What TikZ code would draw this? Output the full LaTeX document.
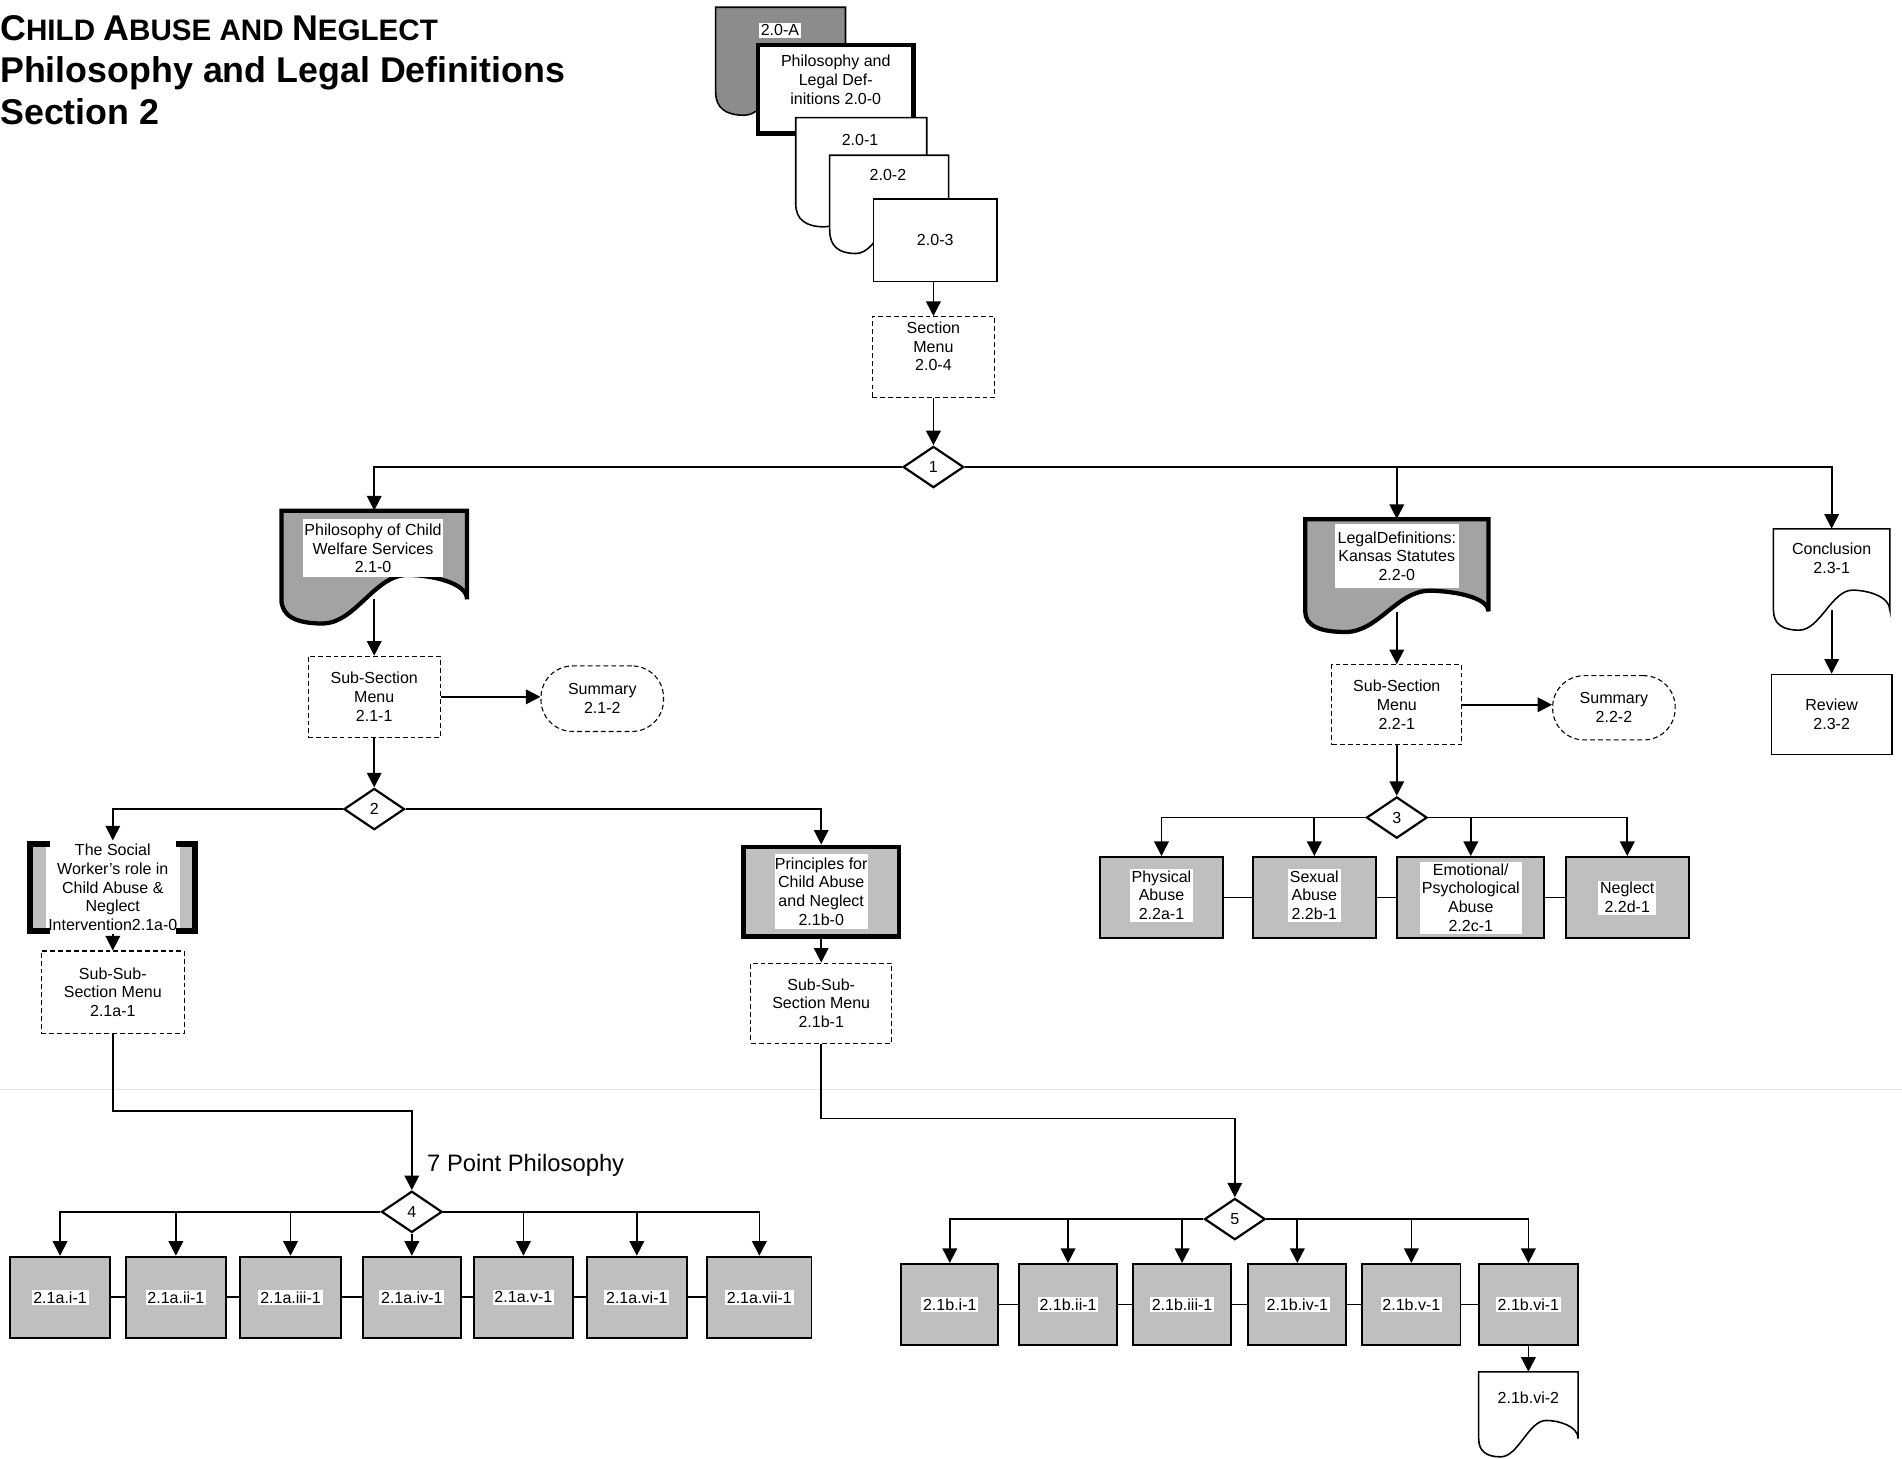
\documentclass[tikz,border=0pt]{standalone}
\usepackage{fontspec}
\setmainfont{Liberation Sans}
\usetikzlibrary{arrows.meta,shapes.geometric}
\definecolor{shadeA}{gray}{0.55}
\definecolor{shadeB}{gray}{0.64}
\definecolor{shadeC}{gray}{0.75}
\newcommand\nodefont{\fontsize{13.2}{15.5}\selectfont}
\newcommand\ttlcap[1]{{\fontsize{29.5}{30}\selectfont #1}}
% document shape: [style]{x0}{y0}{x1}{ySide}{waveDepth}
\newcommand\docshape[6][]{%
  \draw[#1] (#2,#3) -- (#4,#3) -- (#4,#5)
   .. controls (#4,{#5-0.7*#6}) and ({#2+0.8*(#4-#2)},{#5-#6}) .. ({#2+0.68*(#4-#2)},{#5-#6})
   .. controls ({#2+0.5*(#4-#2)},{#5-#6}) and ({#2+0.4*(#4-#2)},{#5+#6}) .. ({#2+0.22*(#4-#2)},{#5+#6})
   .. controls ({#2+0.08*(#4-#2)},{#5+#6}) and (#2,{#5+0.7*#6}) .. (#2,#5) -- cycle;}
\tikzset{
  every node/.style={font=\nodefont, align=center, inner sep=1pt},
  wh/.style 2 args={minimum width=#1pt, minimum height=#2pt},
  conn/.style={line width=1.4pt},
  arr/.style={conn, -{Triangle[length=12pt,width=12pt]}},
  thinbox/.style={draw, line width=1.3pt, fill=white},
  dbox/.style={draw, line width=0.9pt, dash pattern=on 4pt off 2.5pt, fill=white},
  gbox/.style={draw, line width=1.6pt, fill=shadeC},
  thickbox/.style={draw, line width=3.5pt},
  txt/.style={fill=white, inner sep=1.5pt},
  dia/.style={diamond, draw, line width=1.8pt, fill=white, minimum width=50pt, minimum height=34pt, inner sep=0pt},
  ttl/.style={anchor=base west, inner sep=0pt, align=left}
}
\begin{document}
\begin{tikzpicture}[x=1pt,y=-1pt]
\useasboundingbox (0,0) rectangle (1568,1202);
% faint seam of the scanned page
\draw[black!10, line width=1.2pt] (0,898) -- (1568,898);

% Title
\node[ttl, font=\bfseries\fontsize{24.4}{28}\selectfont] (t1) at (0,33) {\ttlcap{C}HILD \ttlcap{A}BUSE AND \ttlcap{N}EGLECT};
\node[ttl, font=\bfseries\fontsize{29.5}{32}\selectfont] (t2) at (0,68) {Philosophy and Legal Definitions};
\node[ttl, font=\bfseries\fontsize{29.5}{32}\selectfont] (t3) at (0,103) {Section 2};

% Top stack
\docshape[fill=shadeA, line width=1.3pt]{590}{6}{697}{76}{19}
\node[txt] (tA) at (643,25) {2.0-A};
\node[thickbox, fill=white, wh={128}{73}] (n200) at (689,73.5) {};
\node (n200t) at (689,66) {Philosophy and\\Legal Def-\\initions 2.0-0};
\docshape[fill=white, line width=1.3pt]{656}{97}{764}{168}{19}
\node (t201) at (709,115) {2.0-1};
\docshape[fill=white, line width=1.3pt]{684}{128}{782}{190}{19}
\node (t202) at (732,144) {2.0-2};
\node[thinbox, wh={102}{68}] (n203) at (771,198) {2.0-3};
\node[dbox, wh={101}{67}] (sm) at (769.5,294.5) {};
\node (smt) at (769.5,285.5) {Section\\Menu\\2.0-4};
\draw[arr] (sm.north |- n203.south) -- (sm.north);
\node[dia] (d1) at (769.5,385) {1};
\draw[arr] (sm.south) -- (d1.north);

% Branch 2.1
\docshape[fill=shadeB, line width=3.5pt]{232}{421}{385}{494}{20}
\node[wh={153}{73}] (p21) at (308.5,457.5) {};
\node[txt, wh={111}{48}] (p21t) at (307.5,452) {Philosophy of Child\\Welfare Services\\2.1-0};
\draw[arr] (d1.west) -| (p21.north);
\node[dbox, wh={109}{67}] (ss21) at (308.5,574.5) {Sub-Section\\Menu\\2.1-1};
\draw[arr] (p21.south) -- (ss21.north);
\node[dbox, rounded corners=26pt, wh={101}{54}] (sum21) at (496.5,576) {Summary\\2.1-2};
\draw[arr] (ss21.east) -- (ss21.east -| sum21.west);
\node[dia] (d2) at (308.5,667) {2};
\draw[arr] (ss21.south) -- (d2.north);

% 2.1a-0 bracket box
\fill[shadeC] (25,693) rectangle (161,770);
\node[txt, wh={110}{77}, inner sep=0pt] (a0) at (93,731.5) {The Social\\Worker's role in\\Child Abuse \&\\Neglect\\Intervention2.1a-0};
\draw[line width=5pt] (41,695.5) -- (25,695.5) -- (25,767.5) -- (41,767.5);
\draw[line width=5pt] (145,695.5) -- (161,695.5) -- (161,767.5) -- (145,767.5);
\draw[arr] (d2.west) -| (a0.north);
\node[dbox, wh={118}{68}] (ssa) at (93,818) {Sub-Sub-\\Section Menu\\2.1a-1};
\draw[arr] (a0.south) -- (ssa.north);

% 2.1b-0
\node[thickbox, fill=shadeC, wh={128}{74}] (b0) at (677,735) {};
\node[txt, wh={77}{62}, inner sep=0pt] (b0t) at (677,735) {Principles for\\Child Abuse\\and Neglect\\2.1b-0};
\draw[arr] (d2.east) -| (b0.north);
\node[dbox, wh={116}{66}] (ssb) at (677,827) {Sub-Sub-\\Section Menu\\2.1b-1};
\draw[arr] (b0.south) -- (ssb.north);

% 7 point philosophy
\node[dia] (d4) at (339.5,999) {4};
\coordinate (k4) at (339.5,916);
\draw[arr] (ssa.south) |- (k4) -- (d4.north);
\node[anchor=west, font=\fontsize{19.6}{22}\selectfont] (pp) at (351,961) {7 Point Philosophy};
\foreach \i/\x/\w/\r in {1/49.5/83/i, 2/145/82/ii, 3/239.5/83/iii, 4/339.5/81/iv, 5/431.5/81/v, 6/525/82/vi, 7/626/86/vii} {
  \node[gbox, wh={\w}{67}] (ra\i) at (\x,1069.5) {};
  \node[txt] (rat\i) at (\x,1069.5) {2.1a.\r-1};
}
\foreach \i/\j in {1/2,2/3,3/4,4/5,5/6,6/7} \draw[conn] (ra\i.east) -- (ra\j.west);
\foreach \i in {1,2,3} \draw[arr] (d4.west) -| (ra\i.north);
\draw[arr] (d4.south) -- (ra4.north);
\foreach \i in {5,6,7} \draw[arr] (d4.east) -| (ra\i.north);

% 2.1b row
\node[dia] (d5) at (1018,1005) {5};
\coordinate (k5) at (1018,922);
\draw[arr] (ssb.south) |- (k5) -- (d5.north);
\foreach \i/\x/\w/\r in {1/783/80/i, 2/880.5/81/ii, 3/974.5/81/iii, 4/1069.5/81/iv, 5/1163.5/81/v, 6/1260/82/vi} {
  \node[gbox, wh={\w}{67}] (rb\i) at (\x,1075.5) {};
  \node[txt] (rbt\i) at (\x,1075.5) {2.1b.\r-1};
}
\foreach \i/\j in {1/2,2/3,3/4,4/5,5/6} \draw[conn] (rb\i.east) -- (rb\j.west);
\foreach \i in {1,2,3} \draw[arr] (d5.west) -| (rb\i.north);
\foreach \i in {4,5,6} \draw[arr] (d5.east) -| (rb\i.north);
\docshape[fill=white, line width=1.3pt]{1219}{1131}{1301}{1186}{15}
\node[wh={82}{55}] (rb7) at (1260,1158.5) {};
\node (rbt7) at (1260,1152) {2.1b.vi-2};
\draw[arr] (rb6.south) -- (rb7.north);

% Branch 2.2
\docshape[fill=shadeB, line width=3.5pt]{1076}{428}{1227}{504}{17}
\node[wh={151}{76}] (p22) at (1151.5,466) {};
\node[txt, wh={102}{53}] (p22t) at (1151.5,458.5) {LegalDefinitions:\\Kansas Statutes\\2.2-0};
\draw[arr] (d1.east) -| (p22.north);
\node[dbox, wh={107}{66}] (ss22) at (1151.5,581) {Sub-Section\\Menu\\2.2-1};
\draw[arr] (p22.south) -- (ss22.north);
\node[dbox, rounded corners=26pt, wh={101}{53}] (sum22) at (1330.5,583.5) {Summary\\2.2-2};
\draw[arr] (ss22.east) -- (ss22.east -| sum22.west);
\node[dia] (d3) at (1151.5,674) {3};
\draw[arr] (ss22.south) -- (d3.north);
\node[gbox, wh={101}{67}] (pa) at (957.5,740) {};
\node[txt] (pat) at (957.5,738) {Physical\\Abuse\\2.2a-1};
\node[gbox, wh={101}{67}] (sa) at (1083.5,740) {};
\node[txt] (sat) at (1083.5,738) {Sexual\\Abuse\\2.2b-1};
\node[gbox, wh={121}{67}] (ea) at (1212.5,740) {};
\node[txt] (eat) at (1212.5,740) {Emotional/\\Psychological\\Abuse\\2.2c-1};
\node[gbox, wh={101}{67}] (na) at (1341.5,740) {};
\node[txt] (nat) at (1341.5,740) {Neglect\\2.2d-1};
\draw[conn] (pa.east) -- (sa.west);
\draw[conn] (sa.east) -- (ea.west);
\draw[conn] (ea.east) -- (na.west);
\draw[arr] (d3.west) -| (pa.north);
\draw[arr] (d3.west) -| (sa.north);
\draw[arr] (d3.east) -| (ea.north);
\draw[arr] (d3.east) -| (na.north);

% Conclusion
\docshape[fill=white, line width=1.3pt]{1462}{436}{1558}{503}{16.5}
\node[wh={96}{67}] (conc) at (1510,469.5) {};
\node (conct) at (1510,460.5) {Conclusion\\2.3-1};
\draw[arr] (d1.east) -| (conc.north);
\node[thinbox, wh={99}{66}] (rev) at (1510,589) {Review\\2.3-2};
\draw[arr] (conc.south) -- (rev.north);
\end{tikzpicture}
\end{document}
